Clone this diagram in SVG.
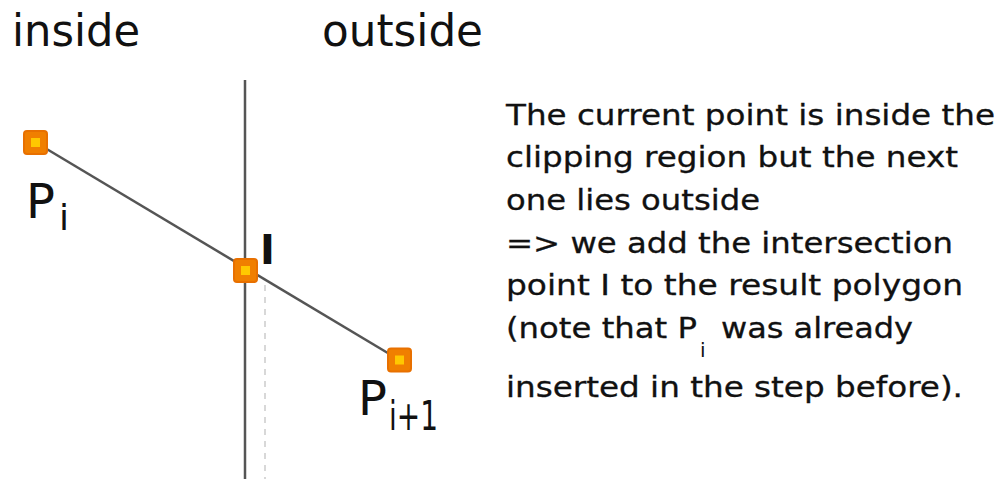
<svg xmlns="http://www.w3.org/2000/svg" width="1002" height="479" viewBox="0 0 1002 479">
<style>
.t{font-family:"DejaVu Sans","Liberation Sans",sans-serif;fill:#111}
.h{font-size:44px}
.lab{font-family:"DejaVu Sans","Liberation Sans",sans-serif;fill:#111;font-size:48px}
.sub{font-family:"DejaVu Sans","Liberation Sans",sans-serif;fill:#111;font-size:36px}
.p{font-size:28px;stroke:#111;stroke-width:0.3}
.pt rect.o{fill:#f07f00;stroke:#e87000;stroke-width:2}
.pt rect.i{fill:#ffc800}
</style>
<rect width="1002" height="479" fill="#fff"/>
<g id="headers">
<text class="t h" x="12" y="46" textLength="128" lengthAdjust="spacingAndGlyphs">inside</text>
<text class="t h" x="322" y="46" textLength="161" lengthAdjust="spacingAndGlyphs">outside</text>
</g>
<g id="connectors">
<line x1="245" y1="80" x2="245" y2="479" stroke="#555" stroke-width="2.5"/>
<line x1="265" y1="285" x2="265" y2="479" stroke="#ccc" stroke-width="1.5" stroke-dasharray="6,6"/>
<line x1="35" y1="142" x2="399.5" y2="360" stroke="#555" stroke-width="2.5"/>
</g>
<g id="Pi" class="pt">
<rect class="o" x="24" y="131" width="23" height="23" rx="3"/>
<rect class="i" x="31" y="138" width="9" height="9"/>
<text class="lab" x="26" y="218">P</text><text class="sub" x="59" y="230">i</text>
</g>
<g id="I" class="pt">
<rect class="o" x="234" y="259" width="23" height="23" rx="3"/>
<rect class="i" x="241" y="266" width="9" height="9"/>
<text class="lab" x="260" y="264" style="font-size:40px;font-weight:bold">I</text>
</g>
<g id="Pi1" class="pt">
<rect class="o" x="388" y="348.5" width="23" height="23" rx="3"/>
<rect class="i" x="395" y="355.5" width="9" height="9"/>
<text class="lab" x="358" y="415">P</text><text class="sub" x="389" y="430" style="font-size:40px" textLength="49" lengthAdjust="spacingAndGlyphs">i+1</text>
</g>
<g id="description" class="t p">
<text x="506" y="125" textLength="489" lengthAdjust="spacingAndGlyphs">The current point is inside the</text>
<text x="506" y="167" textLength="452" lengthAdjust="spacingAndGlyphs">clipping region but the next</text>
<text x="506" y="210" textLength="254" lengthAdjust="spacingAndGlyphs">one lies outside</text>
<text x="506" y="253" textLength="447" lengthAdjust="spacingAndGlyphs">=&gt; we add the intersection</text>
<text x="506" y="295" textLength="457" lengthAdjust="spacingAndGlyphs">point I to the result polygon</text>
<text x="506" y="338" textLength="191" lengthAdjust="spacingAndGlyphs">(note that P</text>
<text x="700" y="357" style="font-size:20px;stroke-width:0">i</text>
<text x="721" y="338" textLength="192" lengthAdjust="spacingAndGlyphs">was already</text>
<text x="506" y="397" textLength="457" lengthAdjust="spacingAndGlyphs">inserted in the step before).</text>
</g>
</svg>
